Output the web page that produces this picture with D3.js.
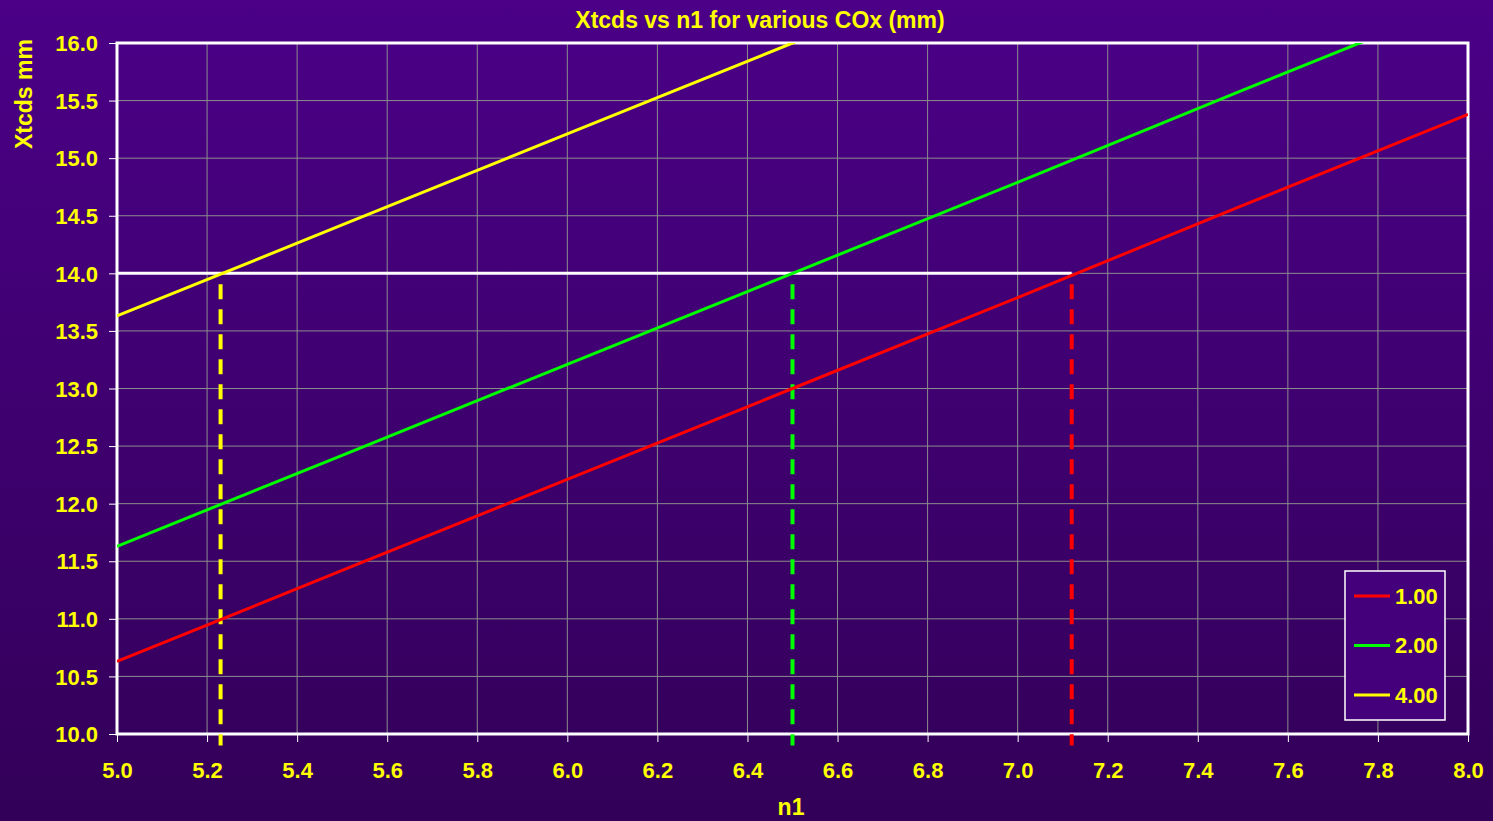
<!DOCTYPE html>
<html><head><meta charset="utf-8">
<script src="https://cdn.jsdelivr.net/npm/d3@7"></script>
<style>html,body{margin:0;padding:0;overflow:hidden;background:#3a0070;}</style>
</head><body>
<svg id="c" width="1493" height="821"></svg>
<script>
const n1Values = [5.0, 5.5, 6.0, 6.5, 7.0, 7.5, 8.0];
const seriesNames = ["1.00", "2.00", "4.00"];
const xtcdsCOx1 = [10.63, 11.42, 12.21, 13.00, 13.79, 14.59, 15.38];
const xtcdsCOx2 = [11.63, 12.42, 13.21, 14.00, 14.79, 15.59, 16.38];
const xtcdsCOx4 = [13.63, 14.42, 15.21, 16.00, 16.79, 17.59, 18.38];
const seriesColors = ["#ff0000", "#00ff00", "#ffff00"];
const targetXtcds = 14.0;
const crossingN1 = [7.12, 6.50, 5.23];
const xTicks = [5.0,5.2,5.4,5.6,5.8,6.0,6.2,6.4,6.6,6.8,7.0,7.2,7.4,7.6,7.8,8.0];
const yTicks = [10.0,10.5,11.0,11.5,12.0,12.5,13.0,13.5,14.0,14.5,15.0,15.5,16.0];

const svg = d3.select("#c");
const W = 1493, H = 821;
const m = {l:117, r:1468, t:43, b:734};

const defs = svg.append("defs");
const g = defs.append("linearGradient").attr("id","bg").attr("x1",0).attr("y1",0).attr("x2",0).attr("y2",1);
g.append("stop").attr("offset","0%").attr("stop-color","#4b0087");
g.append("stop").attr("offset","100%").attr("stop-color","#320058");
defs.append("clipPath").attr("id","clip").append("rect")
  .attr("x",m.l).attr("y",m.t).attr("width",m.r-m.l).attr("height",m.b-m.t);

svg.append("rect").attr("width",W).attr("height",H).attr("fill","url(#bg)");

const x = d3.scaleLinear().domain([5,8]).range([m.l,m.r]);
const y = d3.scaleLinear().domain([10,16]).range([m.b,m.t]);

// grid
svg.append("g").selectAll("line").data(xTicks).join("line")
  .attr("x1",d=>x(d)).attr("x2",d=>x(d)).attr("y1",m.t).attr("y2",m.b)
  .attr("stroke","#8c8c8c").attr("stroke-width",1);
svg.append("g").selectAll("line").data(yTicks).join("line")
  .attr("x1",m.l).attr("x2",m.r).attr("y1",d=>y(d)).attr("y2",d=>y(d))
  .attr("stroke","#8c8c8c").attr("stroke-width",1);

const font = "Arial, 'Liberation Sans', sans-serif";
// axes
const xa = svg.append("g").attr("transform",`translate(0,${m.b})`)
  .call(d3.axisBottom(x).tickValues(xTicks).tickFormat(d3.format(".1f")).tickSize(8).tickSizeOuter(0));
const ya = svg.append("g").attr("transform",`translate(${m.l},0)`)
  .call(d3.axisLeft(y).tickValues(yTicks).tickFormat(d3.format(".1f")).tickSize(8).tickSizeOuter(0));
[xa,ya].forEach(a=>{
  a.select(".domain").remove();
  a.selectAll(".tick line").attr("stroke","#ffffff").attr("stroke-width",1);
  a.selectAll("text").attr("fill","#ffff00").attr("font-family",font)
    .attr("font-weight","bold").attr("font-size","22px");
});
xa.selectAll("text").attr("dy","0").attr("y",44);
ya.selectAll("text").attr("x",-19).attr("dy","0.35em");

// frame
svg.append("rect").attr("x",m.l).attr("y",m.t).attr("width",m.r-m.l).attr("height",m.b-m.t)
  .attr("fill","none").attr("stroke","#ffffff").attr("stroke-width",3);

// target horizontal line
svg.append("line").attr("x1",x(5)).attr("x2",x(crossingN1[0]))
  .attr("y1",y(targetXtcds)).attr("y2",y(targetXtcds))
  .attr("stroke","#ffffff").attr("stroke-width",3);

// dashed verticals
svg.append("g").selectAll("line").data(crossingN1).join("line")
  .attr("x1",d=>x(d)).attr("x2",d=>x(d))
  .attr("y1",y(targetXtcds)+11).attr("y2",y(9.9))
  .attr("stroke",(d,i)=>seriesColors[i]).attr("stroke-width",4)
  .attr("stroke-dasharray","15,10");

// series lines
const seriesData = [xtcdsCOx1, xtcdsCOx2, xtcdsCOx4];
const line = d3.line().x((d,i)=>x(n1Values[i])).y(d=>y(d));
svg.append("g").attr("clip-path","url(#clip)").selectAll("path").data(seriesData).join("path")
  .attr("d",line).attr("fill","none")
  .attr("stroke",(d,i)=>seriesColors[i]).attr("stroke-width",3);

// legend
const lg = svg.append("g");
lg.append("rect").attr("x",1345).attr("y",571).attr("width",100).attr("height",149)
  .attr("fill","#44007a").attr("stroke","#ffffff").attr("stroke-width",1.5);
seriesNames.forEach((n,i)=>{
  const yy = 596 + i*49.5;
  lg.append("line").attr("x1",1354).attr("x2",1390).attr("y1",yy).attr("y2",yy)
    .attr("stroke",seriesColors[i]).attr("stroke-width",3);
  lg.append("text").attr("x",1395).attr("y",yy).attr("dy","0.36em").text(n)
    .attr("fill","#ffff00").attr("font-family",font).attr("font-weight","bold").attr("font-size","22px");
});

// titles
svg.append("text").attr("x",760).attr("y",28).attr("text-anchor","middle")
  .text("Xtcds vs n1 for various COx (mm)")
  .attr("fill","#ffff00").attr("font-family",font).attr("font-weight","bold").attr("font-size","23px");
svg.append("text").attr("transform","translate(32,94) rotate(-90)").attr("text-anchor","middle")
  .text("Xtcds mm")
  .attr("fill","#ffff00").attr("font-family",font).attr("font-weight","bold").attr("font-size","23px");
svg.append("text").attr("x",791).attr("y",815).attr("text-anchor","middle")
  .text("n1")
  .attr("fill","#ffff00").attr("font-family",font).attr("font-weight","bold").attr("font-size","23px");
</script>
</body></html>
